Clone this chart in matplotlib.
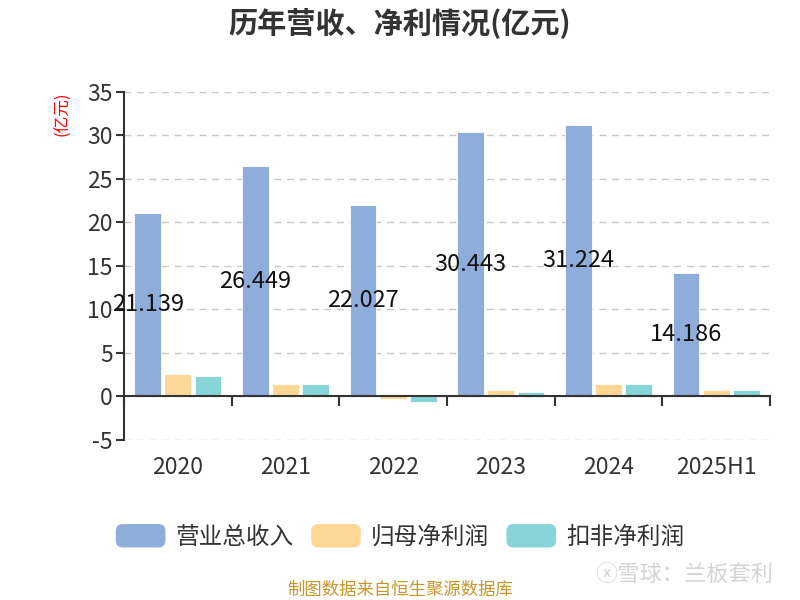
import matplotlib
matplotlib.use('Agg')
import matplotlib.pyplot as plt
import numpy as np
from matplotlib.patches import FancyBboxPatch, Patch
from matplotlib.legend_handler import HandlerPatch

plt.rcParams['font.family'] = ['Noto Sans CJK SC', 'DejaVu Sans']
plt.rcParams['axes.unicode_minus'] = False

# 데이터
years = ['2020', '2021', '2022', '2023', '2024', '2025H1']
revenue = [21.139, 26.449, 22.027, 30.443, 31.224, 14.186]
net_profit = [2.53, 1.49, -0.30, 0.69, 1.49, 0.80]
deducted_profit = [2.36, 1.38, -0.60, 0.57, 1.41, 0.69]
series_names = ['营业总收入', '归母净利润', '扣非净利润']
colors = ['#8eaddb', '#fed797', '#86d4d8']


class RoundHandler(HandlerPatch):
    def create_artists(self, legend, orig_handle, xdescent, ydescent,
                       width, height, fontsize, trans):
        p = FancyBboxPatch((-xdescent, -ydescent), width, height,
                           boxstyle='round,pad=0,rounding_size=5',
                           facecolor=orig_handle.get_facecolor(),
                           edgecolor='none', transform=trans)
        return [p]


fig = plt.figure(figsize=(8, 6), dpi=100)
ax = fig.add_axes([0.155, 0.2667, 0.8075, 0.58])

x = np.arange(len(years))
w = 0.25
gap = 0.03
for i, (vals, c) in enumerate(zip([revenue, net_profit, deducted_profit], colors)):
    off = (i - 1) * (w + gap)
    ax.bar(x + off, vals, width=w, color=c, edgecolor='white', linewidth=0.6,
           zorder=3)

# 영업수익 라벨 (막대 중간)
for xi, v in zip(x, revenue):
    ax.text(xi - (w + gap), v / 2, f'{v:.3f}', ha='center', va='center',
            fontsize=17, color='#111111', zorder=5)

ax.set_xlim(-0.5, len(years) - 0.5)
ax.set_ylim(-5, 35)
ax.set_yticks(np.arange(-5, 36, 5))
ax.yaxis.grid(True, linestyle=(0, (5, 4)), color='#c8c8c8', linewidth=1)
ax.set_axisbelow(True)

for s in ['top', 'right']:
    ax.spines[s].set_visible(False)
ax.spines['left'].set_color('#333333')
ax.spines['left'].set_linewidth(1.5)
ax.spines['bottom'].set_position(('data', 0))
ax.spines['bottom'].set_color('#333333')
ax.spines['bottom'].set_linewidth(1.5)
ax.spines['bottom'].set_zorder(4)

ax.set_xticks(np.arange(-0.5, len(years), 1))
ax.set_xticklabels([])
ax.set_xticks(x, minor=True)
ax.set_xticklabels(years, minor=True)
ax.tick_params(axis='x', which='major', direction='out', length=7,
               width=1.5, color='#333333')
ax.tick_params(axis='x', which='minor', length=0, pad=43, labelsize=16.5,
               labelcolor='#333333')
ax.tick_params(axis='y', direction='out', length=6, width=1.5,
               color='#333333', labelsize=16.5, labelcolor='#333333', pad=2)

fig.text(0.5, 0.962, '历年营收、净利情况(亿元)', ha='center', va='center',
         fontsize=21, fontweight='bold', color='#333333')
fig.text(0.078, 0.81, '(亿元)', rotation=90, ha='center', va='center',
         fontsize=12, color='red')

handles = [Patch(facecolor=c, label=n) for c, n in zip(colors, series_names)]
fig.legend(handles=handles, loc='center', bbox_to_anchor=(0.5, 0.106),
           ncol=3, frameon=False, fontsize=17, handlelength=2.1,
           handleheight=1.15, handletextpad=0.42, columnspacing=0.75,
           handler_map={Patch: RoundHandler()}, labelcolor='#333333')

fig.text(0.5, 0.017, '制图数据来自恒生聚源数据库', ha='center', va='center',
         fontsize=12.5, color='#c9962a')
fig.text(0.855, 0.043, 'ⓧ雪球：兰板套利', ha='center', va='center',
         fontsize=16, color='#d4d4d4')

fig.savefig('out.png', dpi=100)
